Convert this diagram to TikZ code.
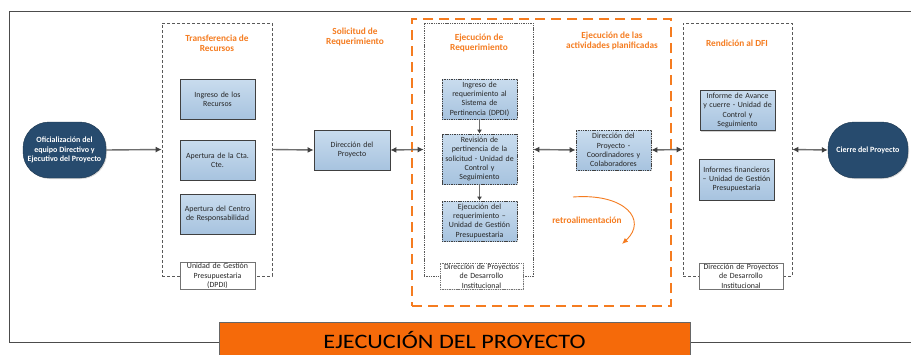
\documentclass[tikz,border=0pt]{standalone}
\usepackage{fontspec}
\setmainfont{Carlito}
\newfontfamily\bannerfont[FakeStretch=1.18]{Carlito}
\usetikzlibrary{arrows.meta,shadows}
\definecolor{navy}{HTML}{274B6E}
\definecolor{boxtop}{HTML}{C9DCEE}
\definecolor{boxbot}{HTML}{A7C3DF}
\definecolor{orng}{HTML}{F57C20}
\definecolor{bannerc}{HTML}{F56A0A}
\definecolor{linec}{HTML}{6E6E6E}
\definecolor{tipc}{HTML}{404040}
\tikzset{
  txt/.style={font=\fontsize{7.9}{9.4}\selectfont, align=center, text=black!85},
  bluebox/.style={txt, draw=tipc, line width=0.8pt, top color=boxtop, bottom color=boxbot,
    minimum width=75pt, minimum height=40pt, inner sep=1pt, text width=73pt,
    drop shadow={shadow xshift=1pt, shadow yshift=-1pt, fill=black!35}},
  dotbox/.style={bluebox, dash pattern=on 1.4pt off 0.9pt},
  lanebox/.style={draw=black!65, line width=0.7pt, dash pattern=on 3pt off 2pt,
    minimum width=109pt, minimum height=253pt},
  footbox/.style={txt, draw=black!55, fill=white, line width=0.6pt, minimum height=26pt,
    inner sep=1pt, drop shadow={shadow xshift=0.8pt, shadow yshift=-0.8pt, fill=black!25}},
  ttl/.style={font=\fontsize{9.3}{10.2}\selectfont\bfseries, align=center, text=orng},
  endoval/.style={font=\fontsize{8}{9.2}\selectfont\bfseries, align=center, text=white,
    fill=navy, draw=navy!70!black, rounded corners=26pt, minimum width=83pt, minimum height=56pt,
    inner sep=1pt, drop shadow={shadow xshift=1pt, shadow yshift=-1pt, fill=black!30}},
  conn/.style={draw=linec, line width=1.4pt, -{Latex[length=6pt,width=6pt,color=tipc]}},
  dconn/.style={conn, {Latex[length=6pt,width=6pt,color=tipc]}-{Latex[length=6pt,width=6pt,color=tipc]}},
  sconn/.style={draw=linec, line width=1.2pt, -{Latex[length=4pt,width=5pt,color=tipc]}},
}
\begin{document}
\begin{tikzpicture}[x=1pt,y=-1pt]
\useasboundingbox (0,0) rectangle (911,354);
\clip (0,0) rectangle (911,354);
\fill[white] (0,0) rectangle (911,354);
% outer frame
\draw[black!70, line width=0.8pt] (920,11) -- (9,11) -- (9,342) -- (920,342);
% banner
\node[draw=black!60, fill=bannerc, line width=0.8pt, minimum width=471pt, minimum height=40pt,
  anchor=north west, inner sep=0pt] (banner) at (219,322) {};
\node[font=\bannerfont\fontsize{20.5}{22}\selectfont, text=black, anchor=base, inner sep=0pt] (bannertxt) at (454.5,348.5) {EJECUCIÓN DEL PROYECTO};

% orange big dashed area
\node[draw=orng, line width=1.8pt, dash pattern=on 10pt off 6pt, minimum width=259pt,
  minimum height=287pt, inner sep=0pt] (orangebox) at (541.5,162.5) {};

% left oval
\node[endoval] (start) at (64.5,150) {Oficialización del\\equipo Directivo y\\Ejecutivo del Proyecto};

% Transferencia lane
\node[lanebox, minimum width=110pt] (T) at (217,149.5) {};
\node[ttl] (Tt) at (217,43) {Transferencia de\\Recursos};
\node[bluebox] (b1) at (217.5,99) {Ingreso de los\\Recursos};
\node[bluebox] (b2) at (217.5,160) {Apertura de la Cta.\\Cte.};
\node[bluebox] (b3) at (217.5,214) {Apertura del Centro\\de Responsabilidad};
\node[footbox, minimum width=75pt, text width=73pt] (f1) at (217.5,276) {Unidad de Gestión\\Presupuestaria\\(DPDI)};

% Solicitud
\node[ttl] (St) at (355,37) {Solicitud de\\Requerimiento};
\node[bluebox, minimum width=76pt] (D1) at (352,150) {Dirección del\\Proyecto};

% Ejecución de requerimiento lane (dotted)
\node[lanebox, dash pattern=on 1.4pt off 0.9pt] (E) at (478.5,149.5) {};
\node[ttl] (Et) at (479,43) {Ejecución de\\Requerimiento};
\node[dotbox] (e1) at (479.5,99) {Ingreso de\\requerimiento al\\Sistema de\\Pertinencia (DPDI)};
\node[dotbox, minimum height=50pt] (e2) at (479.5,159) {Revisión de\\pertinencia de la\\solicitud - Unidad de\\Control y\\Seguimiento};
\node[dotbox] (e3) at (479.5,221) {Ejecución del\\requerimiento –\\Unidad de Gestión\\Presupuestaria};
\node[footbox, dash pattern=on 1.4pt off 0.9pt, minimum width=83pt, text width=81pt] (f2) at (481.5,276) {Dirección de Proyectos\\de Desarrollo\\Institucional};

% Ejecución de actividades
\node[ttl] (At) at (612,41) {Ejecución de las\\actividades planificadas};
\node[dotbox] (D2) at (613.5,150) {Dirección del\\Proyecto -\\Coordinadores y\\Colaboradores};
\node[font=\fontsize{9.3}{10}\selectfont\bfseries, text=orng] (retro) at (587,220) {retroalimentación};
\coordinate (rs) at (573,197);
\coordinate (re) at (622,244);
\draw[orng, line width=0.9pt, -{Latex[length=6pt,width=5pt]}] (rs) .. controls (625,193) and (648,220) .. (re);

% Rendición lane
\node[lanebox] (R) at (737.5,149.5) {};
\node[ttl] (Rt) at (737,43) {Rendición al DFI};
\node[bluebox] (r1) at (737.5,110.5) {Informe de Avance\\y cuerre - Unidad de\\Control y\\Seguimiento};
\node[bluebox, minimum height=41pt] (r2) at (736.5,179.5) {Informes financieros\\– Unidad de Gestión\\Presupuestaria};
\node[footbox, minimum width=84pt, text width=82pt] (f3) at (741,276) {Dirección de Proyectos\\de Desarrollo\\Institucional};

% end oval
\node[endoval, minimum width=80pt] (end) at (868,150) {Cierre del Proyecto};

% connectors
\draw[conn] (start.east) -- (T.west);
\draw[conn] (T.east) -- (D1.west);
\draw[dconn] (D1.east) -- (E.west);
\draw[dconn] (E.east) -- (D2.west);
\draw[dconn] (D2.east) -- (R.west);
\draw[dconn] (R.east) -- (end.west);
\draw[sconn] (e1.south) -- (e2.north);
\draw[sconn] (e2.south) -- (e3.north);
\end{tikzpicture}
\end{document}
